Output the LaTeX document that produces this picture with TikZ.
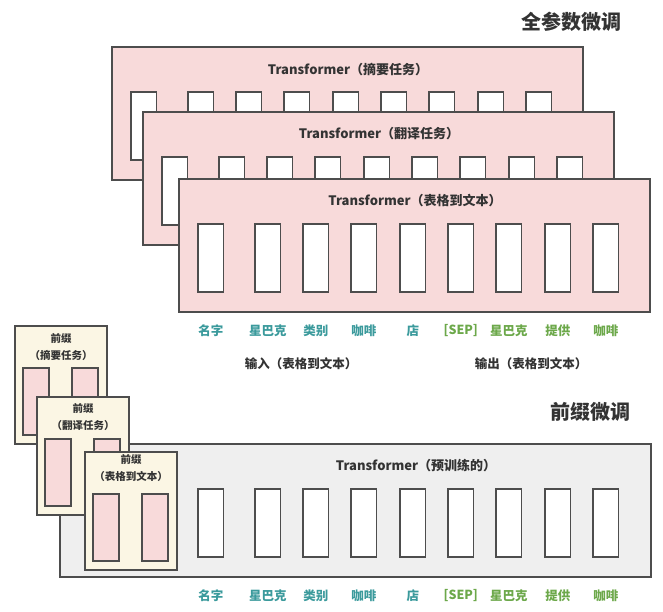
\documentclass[tikz,border=0pt]{standalone}
\usepackage{fontspec}
\setmainfont{Noto Sans CJK SC}
\usetikzlibrary{positioning}

\definecolor{tfpink}{HTML}{F8DADA}
\definecolor{basegray}{HTML}{EFEFEF}
\definecolor{precream}{HTML}{FBF6E4}
\definecolor{edgegray}{HTML}{4D4D4D}
\definecolor{txtgray}{HTML}{333333}
\definecolor{tokteal}{HTML}{3B9A9C}
\definecolor{tokgreen}{HTML}{6CA84A}

\begin{document}
\begin{tikzpicture}[x=1pt, y=-1pt,
    box/.style={draw=edgegray, line width=1.1pt},
    headline/.style={text=txtgray, font=\bfseries\fontsize{20}{24}\selectfont},
    tfname/.style={text=txtgray, font=\bfseries\fontsize{13}{15}\selectfont},
    tok/.style={font=\bfseries\fontsize{12.5}{14}\selectfont},
    iolabel/.style={text=txtgray, font=\bfseries\fontsize{12.5}{14}\selectfont},
    prename/.style={text=txtgray, align=center, font=\bfseries\fontsize{10.5}{17}\selectfont}]
    \useasboundingbox (0,0) rectangle (663,611);

    % full fine-tuning: one transformer per task
    \node[headline] (fulltitle) at (571,22) {全参数微调};
    \foreach \bx/\by/\task [count=\i] in {112/47/摘要任务, 143/112/翻译任务, 179/179/表格到文本} {
        \filldraw[box, fill=tfpink] (\bx,\by) rectangle ++(471,133);
        \node[tfname] (tf\i) at (\bx+236,\by+22) {Transformer（\task）};
        \foreach \dx in {19,76,124,172,221,269,317,366,414}
            \filldraw[box, fill=white] (\bx+\dx,\by+45) rectangle ++(25.5,68);
    }

    % tokens under the boxes
    \foreach \dx/\w/\c [count=\j] in {19/名字/tokteal, 76/星巴克/tokteal, 124/类别/tokteal,
        172/咖啡/tokteal, 221/店/tokteal, 269/{[SEP]}/tokgreen, 317/星巴克/tokgreen,
        366/提供/tokgreen, 414/咖啡/tokgreen} {
        \node[tok, text=\c] (tokup\j) at (191.75+\dx,331) {\w};
        \node[tok, text=\c] (tokdn\j) at (191.75+\dx,596) {\w};
    }
    \node[iolabel] (inlabel) at (301,364) {输入（表格到文本）};
    \node[iolabel] (outlabel) at (531,364) {输出（表格到文本）};

    % prefix tuning: one frozen transformer
    \node[headline] (prefixtitle) at (590,412) {前缀微调};
    \filldraw[box, fill=basegray] (60,444) rectangle (651,577);
    \node[tfname] (tfbase) at (416,466) {Transformer（预训练的）};
    \foreach \dx in {19,76,124,172,221,269,317,366,414}
        \filldraw[box, fill=white] (179+\dx,489) rectangle ++(25.5,68);

    % prefixes, one per task
    \foreach \px/\py/\ty/\task [count=\k] in {15/326/21.5/摘要任务, 37/397/20.5/翻译任务, 85/452/16.5/表格到文本} {
        \filldraw[box, fill=precream] (\px,\py) rectangle ++(92,118);
        \node[prename] (pre\k) at (\px+46,\py+\ty) {前缀\\（\task）};
        \filldraw[box, fill=tfpink] (\px+8,\py+42) rectangle ++(26,67);
        \filldraw[box, fill=tfpink] (\px+57,\py+42) rectangle ++(26,67);
    }
\end{tikzpicture}
\end{document}
